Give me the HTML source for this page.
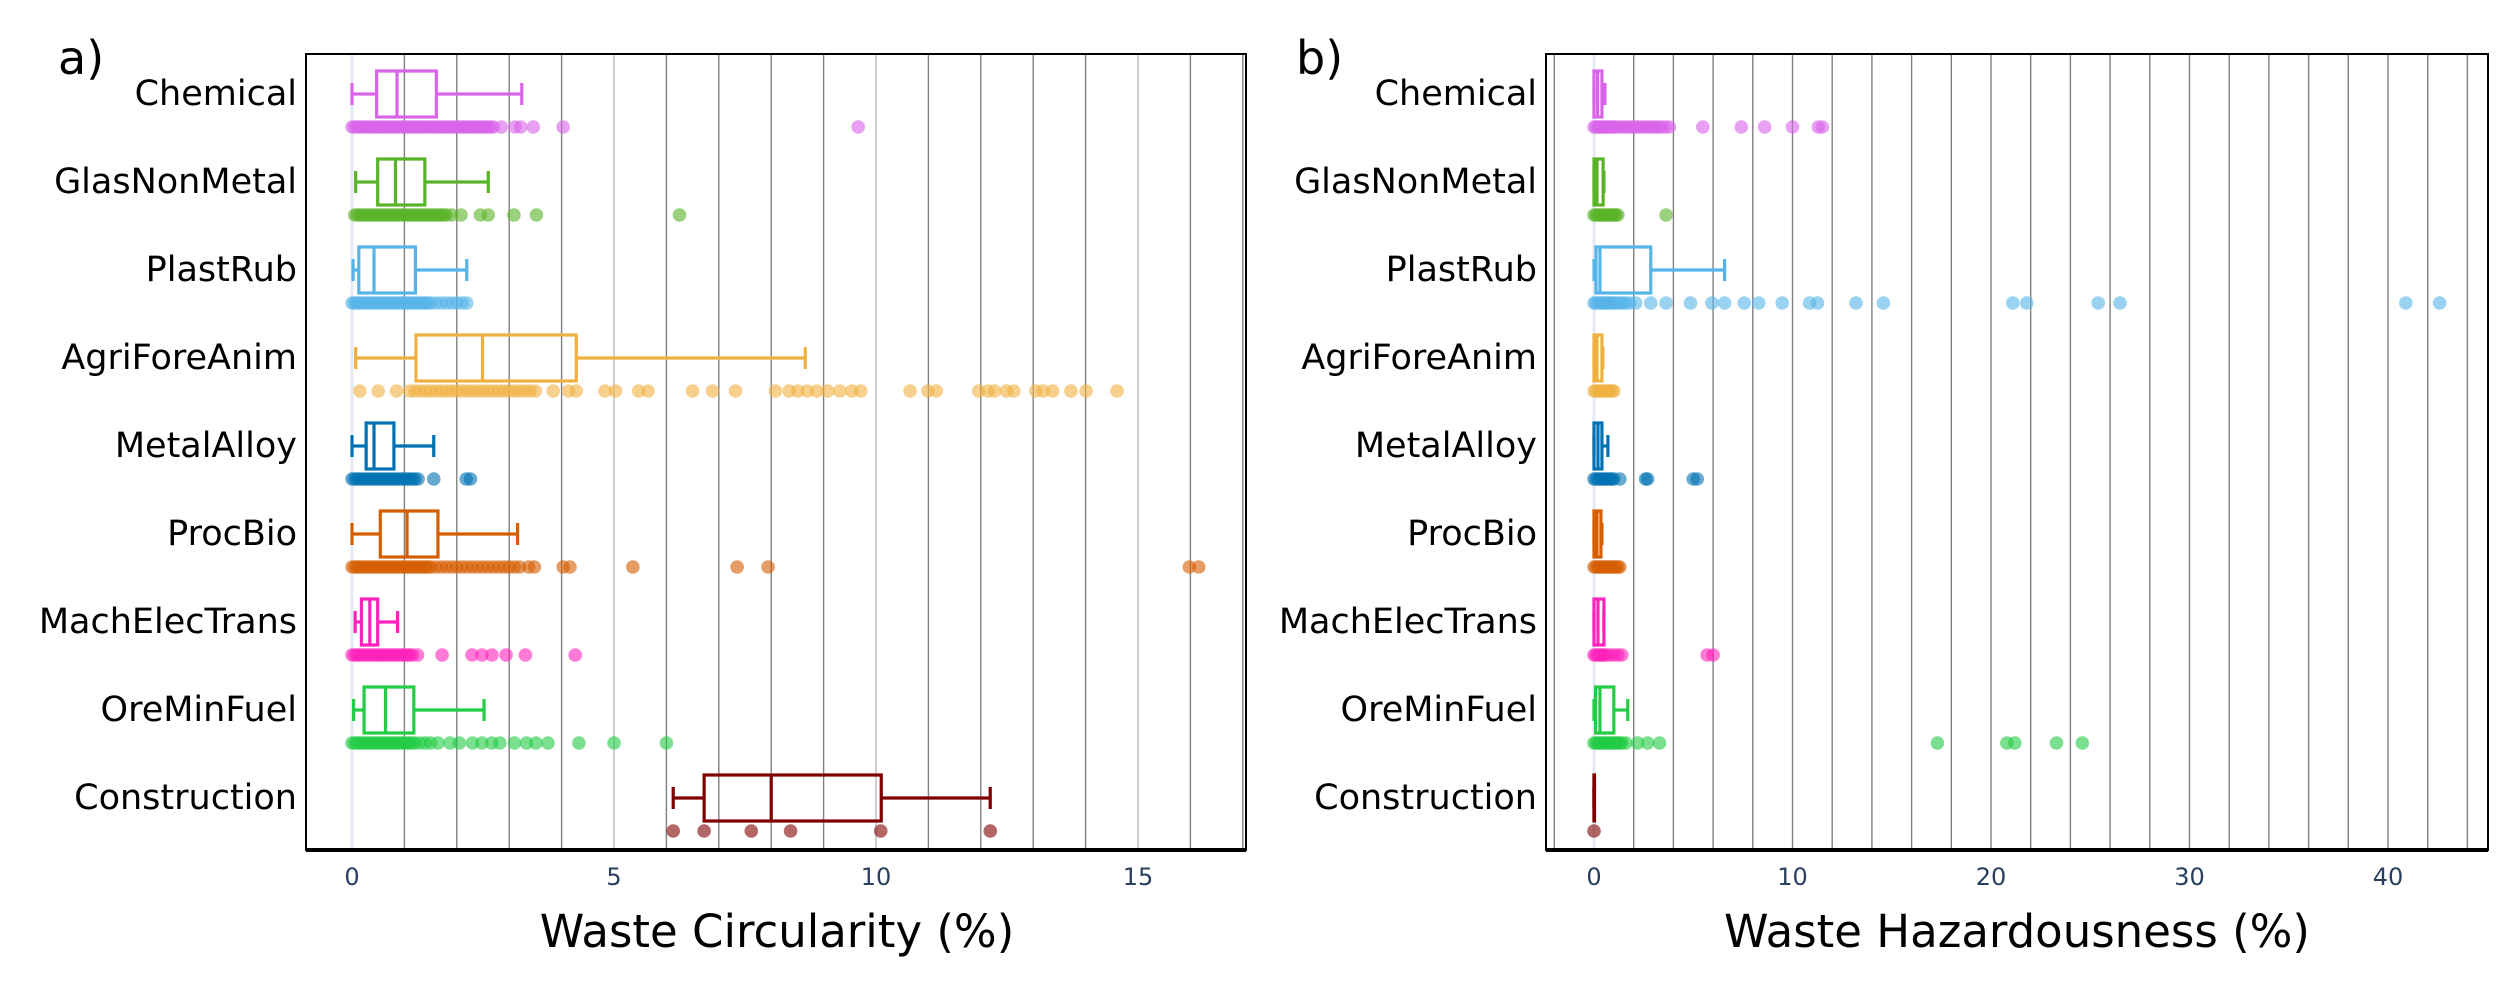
<!DOCTYPE html>
<html><head><meta charset="utf-8"><style>
html,body{margin:0;padding:0;background:#fff;}
svg{display:block;font-family:"DejaVu Sans","Liberation Sans",sans-serif;}
</style></head><body>
<svg id="chart" width="2506" height="989" xmlns="http://www.w3.org/2000/svg"></svg>
<script>
const categories=["Chemical","GlasNonMetal","PlastRub","AgriForeAnim","MetalAlloy","ProcBio","MachElecTrans","OreMinFuel","Construction"];
const colors=["#d963e9","#58b327","#56b4e9","#f0b040","#0072b2","#d55e00","#ff22bb","#22cc44","#800000"];
// Circularity box stats [lowWhisker, q1, median, q3, highWhisker]
const circStats=[[0,0.47,0.86,1.61,3.24],[0.07,0.49,0.83,1.39,2.6],[0.02,0.13,0.42,1.21,2.19],[0.07,1.22,2.49,4.28,8.65],[0,0.27,0.42,0.8,1.56],[0,0.54,1.05,1.64,3.16],[0.06,0.18,0.34,0.49,0.87],[0.03,0.23,0.64,1.18,2.52],[6.13,6.72,8.0,10.1,12.18]];
const circPoints=[
[0,0.05,0.1,0.15,0.2,0.25,0.3,0.35,0.4,0.45,0.5,0.55,0.6,0.65,0.7,0.75,0.8,0.85,0.9,0.95,1.0,1.05,1.1,1.15,1.2,1.25,1.3,1.35,1.4,1.45,1.5,1.55,1.6,1.65,1.7,1.75,1.8,1.85,1.9,1.95,2.0,2.05,2.1,2.15,2.2,2.25,2.3,2.35,2.4,2.45,2.5,2.55,2.6,2.65,2.7,2.85,3.11,3.22,3.46,4.03,9.66],
[0.05,0.1,0.15,0.2,0.25,0.3,0.35,0.4,0.45,0.5,0.55,0.6,0.65,0.7,0.75,0.8,0.85,0.9,0.95,1.0,1.05,1.1,1.15,1.2,1.25,1.3,1.35,1.4,1.45,1.5,1.55,1.6,1.65,1.7,1.75,1.8,1.9,2.08,2.45,2.6,3.09,3.52,6.25],
[0,0.05,0.1,0.15,0.2,0.25,0.3,0.35,0.4,0.45,0.5,0.55,0.6,0.65,0.7,0.75,0.8,0.85,0.9,0.95,1.0,1.05,1.1,1.15,1.2,1.25,1.3,1.35,1.4,1.45,1.5,1.6,1.7,1.8,1.9,2.0,2.1,2.19],
[0.15,0.5,0.85,1.1,1.2,1.3,1.4,1.5,1.6,1.7,1.8,1.9,2.0,2.1,2.2,2.3,2.4,2.5,2.6,2.7,2.8,2.9,3.0,3.1,3.2,3.3,3.4,3.5,3.84,4.13,4.28,4.83,5.03,5.47,5.65,6.5,6.88,7.32,8.08,8.34,8.51,8.69,8.87,9.08,9.31,9.54,9.71,10.65,10.99,11.15,11.96,12.14,12.26,12.49,12.63,13.05,13.19,13.37,13.72,14.01,14.6],
[0,0.05,0.1,0.15,0.2,0.25,0.3,0.35,0.4,0.45,0.5,0.55,0.6,0.65,0.7,0.75,0.8,0.85,0.9,0.95,1.0,1.05,1.1,1.15,1.2,1.26,1.56,2.18,2.26],
[0,0.05,0.1,0.15,0.2,0.25,0.3,0.35,0.4,0.45,0.5,0.55,0.6,0.65,0.7,0.75,0.8,0.85,0.9,0.95,1.0,1.05,1.1,1.15,1.2,1.25,1.3,1.35,1.4,1.45,1.5,1.6,1.7,1.8,1.9,2.0,2.1,2.2,2.3,2.4,2.5,2.6,2.7,2.8,2.9,3.0,3.1,3.2,3.37,3.48,4.03,4.16,5.36,7.35,7.94,15.98,16.16],
[0,0.05,0.1,0.15,0.2,0.25,0.3,0.35,0.4,0.45,0.5,0.55,0.6,0.65,0.7,0.75,0.8,0.85,0.9,0.95,1.0,1.05,1.1,1.15,1.25,1.72,2.29,2.48,2.67,2.94,3.31,4.26],
[0,0.05,0.1,0.15,0.2,0.25,0.3,0.35,0.4,0.45,0.5,0.55,0.6,0.65,0.7,0.75,0.8,0.85,0.9,0.95,1.0,1.05,1.1,1.15,1.2,1.3,1.4,1.5,1.64,1.87,2.05,2.3,2.48,2.67,2.82,3.1,3.33,3.51,3.74,4.33,5.0,6.0],
[6.13,6.72,7.62,8.37,10.09,12.18]];
// Hazardousness box stats
const hazStats=[[0,0,0.18,0.4,0.55],[0,0,0.15,0.46,0.5],[0,0.1,0.3,2.86,6.58],[0,0,0.15,0.4,0.45],[0,0,0.2,0.4,0.7],[0,0,0.15,0.35,0.4],[0,0,0.2,0.5,0.5],[0,0.08,0.3,1.0,1.7],[0,0,0,0,0]];
const hazPoints=[
[0,0.1,0.2,0.3,0.4,0.5,0.6,0.7,0.8,0.9,1.0,1.15,1.3,1.45,1.6,1.75,1.9,2.05,2.2,2.35,2.5,2.65,2.8,2.95,3.1,3.25,3.4,3.6,3.8,5.48,7.42,8.6,10.0,11.3,11.5],
[0,0.1,0.2,0.3,0.4,0.5,0.6,0.7,0.8,0.9,1.0,1.1,1.2,3.63],
[0,0.1,0.2,0.3,0.4,0.5,0.6,0.7,0.8,0.9,1.0,1.15,1.3,1.45,1.6,1.8,2.1,2.86,3.63,4.86,5.94,6.58,7.57,8.3,9.48,10.86,11.26,13.2,14.58,21.1,21.8,25.4,26.5,40.9,42.6],
[0,0.1,0.2,0.3,0.4,0.5,0.6,0.7,0.8,0.9,1.0],
[0,0.1,0.2,0.3,0.4,0.5,0.6,0.7,0.8,0.9,1.0,1.3,2.6,2.7,5.0,5.2],
[0,0.1,0.2,0.3,0.4,0.5,0.6,0.7,0.8,0.9,1.0,1.1,1.2,1.3],
[0,0.1,0.2,0.3,0.4,0.5,0.6,0.8,1.0,1.2,1.4,5.7,6.0],
[0,0.1,0.2,0.3,0.4,0.5,0.6,0.7,0.8,0.9,1.0,1.1,1.2,1.3,1.4,1.6,2.2,2.7,3.3,17.3,20.8,21.2,23.3,24.6],
[0]];
const circTicks=[0,5,10,15];
const hazTicks=[0,10,20,30,40];

const NS="http://www.w3.org/2000/svg";
const svg=document.getElementById("chart");
function mk(tag,attrs,parent){const e=document.createElementNS(NS,tag);for(const k in attrs)e.setAttribute(k,attrs[k]);(parent||svg).appendChild(e);return e;}
const rowY=i=>94+88*i;

function panel(opt){
  const g=mk("g",{});
  
  
  const x=v=>opt.x0+opt.unit*v;
  for(let v=opt.gmin;v<=opt.gmax;v+=opt.gstep){
    if(v===0)continue;
    const l=mk("line",{x1:x(v),x2:x(v),y1:opt.top,y2:opt.bottom,stroke:(v%5===0&&opt.unit>40)?"#bbb":"#808080","stroke-width":1.4},g);
    
    
  }
  const z=mk("line",{x1:x(0),x2:x(0),y1:opt.top,y2:opt.bottom,stroke:"#e4eaf4","stroke-width":3},g);
  
  
  categories.forEach((c,i)=>{
    const s=opt.stats[i], col=colors[i], yc=rowY(i);
    const sg=mk("g",{},g);
    
    
    opt.points[i].forEach(p=>{
      const d=mk("circle",{cx:x(p),cy:yc+33,r:6.8,fill:col,"fill-opacity":0.6},sg);
      
      
    });
    const sw=3.2;
    const wl=mk("line",{x1:x(s[0]),x2:x(s[1]),y1:yc,y2:yc,stroke:col,"stroke-width":sw},sg);
    
    
    const wh=mk("line",{x1:x(s[3]),x2:x(s[4]),y1:yc,y2:yc,stroke:col,"stroke-width":sw},sg);
    
    
    [s[0],s[4]].forEach(v=>{
      const cap=mk("line",{x1:x(v),x2:x(v),y1:yc-11,y2:yc+11,stroke:col,"stroke-width":sw},sg);
      
      
    });
    const b=mk("rect",{x:x(s[1]),y:yc-23,width:Math.max(x(s[3])-x(s[1]),0.5),height:46,fill:"none",stroke:col,"stroke-width":sw},sg);
    
    
    const m=mk("line",{x1:x(s[2]),x2:x(s[2]),y1:yc-23,y2:yc+23,stroke:col,"stroke-width":sw},sg);
    
    
    const lab=mk("text",{x:opt.left-9,y:yc+11,"text-anchor":"end","font-size":35,fill:"#000"},g);
    lab.textContent=c;
    
    
  });
  const f=mk("rect",{x:opt.left,y:opt.top,width:opt.right-opt.left,height:opt.bottom-opt.top,fill:"none",stroke:"#000","stroke-width":2},g);
  
  
  const bl=mk("line",{x1:opt.left,x2:opt.right,y1:opt.bottom,y2:opt.bottom,stroke:"#000","stroke-width":4},g);
  
  
  opt.ticks.forEach(t=>{
    const tl=mk("text",{x:x(t),y:885,"text-anchor":"middle","font-size":24,fill:"#2a3f5f"},g);
    tl.textContent=t;
    
    
  });
  const ti=mk("text",{x:opt.titleX,y:947,"text-anchor":"middle","font-size":45,fill:"#000"},g);
  ti.textContent=opt.title;
  
  
  const pl=mk("text",{x:opt.letterX,y:74,"font-size":46,fill:"#000"},g);
  pl.textContent=opt.letter;
  
  
}
panel({name:"circularity-panel",x0:352,unit:52.4,left:306,right:1246,top:54,bottom:850,gmin:0,gmax:17,gstep:1,stats:circStats,points:circPoints,ticks:circTicks,title:"Waste Circularity (%)",titleX:777,letter:"a)",letterX:58});
panel({name:"hazardousness-panel",x0:1594,unit:19.85,left:1546,right:2488,top:54,bottom:850,gmin:-2,gmax:44,gstep:2,stats:hazStats,points:hazPoints,ticks:hazTicks,title:"Waste Hazardousness (%)",titleX:2017,letter:"b)",letterX:1296});
</script>
</body></html>
